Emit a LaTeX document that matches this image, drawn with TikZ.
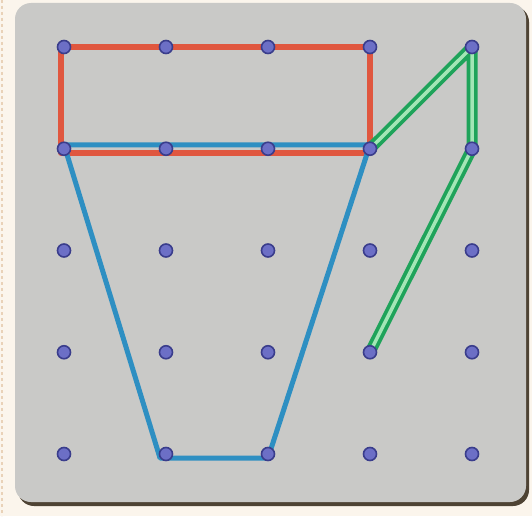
\documentclass[tikz,border=0pt]{standalone}
\usepackage{tikz}
\usetikzlibrary{positioning}

\definecolor{paper}{HTML}{FBF5EC}
\definecolor{board}{HTML}{C9C9C7}
\definecolor{boardedge}{HTML}{4E4334}
\definecolor{pegfill}{HTML}{6C6FC6}
\definecolor{pegline}{HTML}{3A3D8C}
\definecolor{bandred}{HTML}{E0573F}
\definecolor{bandblue}{HTML}{2E8FC2}
\definecolor{banddark}{HTML}{1FA35A}
\definecolor{bandlight}{HTML}{A3E6B6}

\begin{document}
\begin{tikzpicture}[x=1pt, y=-1pt,
  peg/.style={circle, draw=pegline, fill=pegfill, line width=1.6pt, minimum size=13pt, inner sep=0pt},
  redband/.style={draw=bandred, line width=6pt, line join=round},
  blueband/.style={draw=bandblue, line width=5pt, line join=round},
  greenband/.style={draw=banddark, line width=11pt, line join=round, line cap=round},
  greencore/.style={draw=bandlight, line width=3.5pt, line join=round}]
\useasboundingbox (0,0) rectangle (532,516);
\fill[paper] (0,0) rectangle (532,516);
\draw[draw=paper!70!brown, dashed, line width=1.5pt] (2,0) -- (2,516);
% board
\fill[boardedge, rounded corners=16pt] (18,6) rectangle (529,506);
\fill[board, rounded corners=16pt] (15,3) rectangle (526,502);
% peg positions
\foreach \i in {0,...,4}
  \foreach \j in {0,...,4}
    \coordinate (p-\i-\j) at ({64+102*\i},{47+101.75*\j});
% red rectangle
\draw[redband] ([xshift=-3pt]p-0-0) -- (p-3-0) -- ([yshift=-4pt]p-3-1) -- ([xshift=-3pt,yshift=-4pt]p-0-1) -- cycle;
% blue cup
\draw[blueband] ([yshift=4pt]p-0-1) -- ([xshift=-6pt,yshift=-4pt]p-1-4) -- ([yshift=-4pt]p-2-4) -- ([yshift=4pt]p-3-1) -- cycle;
% green band
\draw[greenband] (p-3-1) -- (p-4-0) -- (p-4-1) -- (p-3-3);
\draw[greencore] (p-3-1) -- (p-4-0) -- (p-4-1) -- (p-3-3);
% pegs
\foreach \i in {0,...,4}
  \foreach \j in {0,...,4}
    \node[peg] (n-\i-\j) at (p-\i-\j) {};
\end{tikzpicture}
\end{document}
